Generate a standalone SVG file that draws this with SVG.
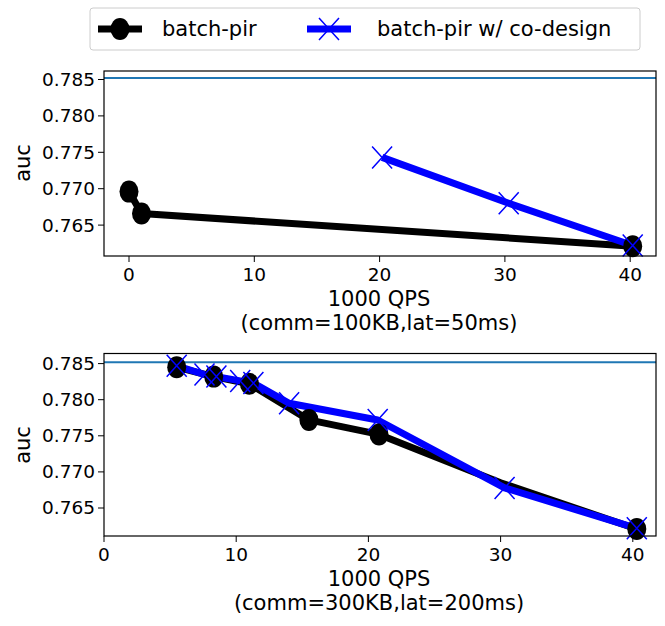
<svg xmlns="http://www.w3.org/2000/svg" width="665" height="626" viewBox="0 0 665 626">
<style>
text{font-family:"DejaVu Sans",sans-serif;fill:#000}
.t{font-size:18.5px}
.l{font-size:21px}
.ax{fill:none;stroke:#000;stroke-width:1.2}
.bl{fill:none;stroke:#000;stroke-width:7;stroke-linejoin:round}
.bu{fill:none;stroke:#0000ff;stroke-width:7;stroke-linejoin:round}
.h{stroke:#1f77b4;stroke-width:2}
.tk{stroke:#000;stroke-width:1}
</style>
<defs>
<ellipse id="c" rx="9.5" ry="11" fill="#000"/>
<path id="x" d="M-10,-11L10,11M-10,11L10,-11" stroke="#0000ff" stroke-width="1.5"/>
</defs>
<rect width="665" height="626" fill="#fff"/>
<g id="legend">
<rect x="90" y="8" width="550" height="42" rx="3" fill="#fff" stroke="#ccc"/>
<line x1="98" y1="29" x2="142" y2="29" stroke="#000" stroke-width="7"/>
<use href="#c" x="120" y="29"/>
<text class="l" x="162" y="36">batch-pir</text>
<line x1="307" y1="29" x2="351" y2="29" stroke="#0000ff" stroke-width="7"/>
<use href="#x" x="329" y="29"/>
<text class="l" x="377" y="36">batch-pir w/ co-design</text>
</g>
<g id="top">
<line class="h" x1="104" y1="78" x2="656" y2="78"/>
<g id="connectors-top">
<polyline class="bl" points="129,191.6 141.5,213.5 632.7,246.2"/>
<polyline class="bu" points="382.1,157.4 508.7,203.3 632.7,245.5"/>
</g>
<use href="#c" x="129" y="191.6"/><use href="#c" x="141.5" y="213.5"/><use href="#c" x="632.7" y="246.2"/>
<use href="#x" x="382.1" y="157.4"/><use href="#x" x="508.7" y="203.3"/><use href="#x" x="632.7" y="245.5"/>
<rect class="ax" x="104" y="71" width="552" height="185"/>
<g class="tk">
<line x1="98" y1="79.5" x2="104" y2="79.5"/><line x1="98" y1="115.9" x2="104" y2="115.9"/><line x1="98" y1="152.3" x2="104" y2="152.3"/><line x1="98" y1="188.7" x2="104" y2="188.7"/><line x1="98" y1="225.1" x2="104" y2="225.1"/>
<line x1="129" y1="256" x2="129" y2="262"/><line x1="254.3" y1="256" x2="254.3" y2="262"/><line x1="379.6" y1="256" x2="379.6" y2="262"/><line x1="504.9" y1="256" x2="504.9" y2="262"/><line x1="630.2" y1="256" x2="630.2" y2="262"/>
</g>
<g class="t" text-anchor="end">
<text x="95" y="86">0.785</text><text x="95" y="122.4">0.780</text><text x="95" y="158.8">0.775</text><text x="95" y="195.2">0.770</text><text x="95" y="231.6">0.765</text>
</g>
<g class="t" text-anchor="middle">
<text x="129" y="281">0</text><text x="254.3" y="281">10</text><text x="379.6" y="281">20</text><text x="504.9" y="281">30</text><text x="630.2" y="281">40</text>
</g>
<text class="l" x="379" y="306" text-anchor="middle">1000 QPS</text>
<text class="l" x="379" y="330" text-anchor="middle">(comm=100KB,lat=50ms)</text>
<text class="l" transform="translate(30,163) rotate(-90)" text-anchor="middle">auc</text>
</g>
<g id="bottom">
<line class="h" x1="104" y1="362.2" x2="656" y2="362.2"/>
<g id="connectors-bottom">
<polyline class="bl" points="176.7,367.2 213.7,376.6 249.4,383.8 308.9,419.9 379,434.4 500.6,482.7 636.8,529"/>
<polyline class="bu" points="176.7,365.8 204.5,374.5 216.4,376.6 240.2,380.9 253.4,383.1 289.1,403.3 377.7,420 504.6,487.9 636.8,528.3"/>
</g>
<use href="#c" x="176.7" y="367.2"/><use href="#c" x="213.7" y="376.6"/><use href="#c" x="249.4" y="383.8"/><use href="#c" x="308.9" y="419.9"/><use href="#c" x="379" y="434.4"/><use href="#c" x="636.8" y="529"/>
<use href="#x" x="176.7" y="365.8"/><use href="#x" x="204.5" y="374.5"/><use href="#x" x="216.4" y="376.6"/><use href="#x" x="240.2" y="380.9"/><use href="#x" x="253.4" y="383.1"/><use href="#x" x="289.1" y="403.3"/><use href="#x" x="377.7" y="420"/><use href="#x" x="504.6" y="487.9"/><use href="#x" x="636.8" y="528.3"/>
<rect class="ax" x="104" y="353.5" width="552" height="182.5"/>
<g class="tk">
<line x1="98" y1="363.6" x2="104" y2="363.6"/><line x1="98" y1="399.7" x2="104" y2="399.7"/><line x1="98" y1="435.8" x2="104" y2="435.8"/><line x1="98" y1="471.9" x2="104" y2="471.9"/><line x1="98" y1="508" x2="104" y2="508"/>
<line x1="104" y1="536" x2="104" y2="542"/><line x1="236.2" y1="536" x2="236.2" y2="542"/><line x1="368.4" y1="536" x2="368.4" y2="542"/><line x1="500.6" y1="536" x2="500.6" y2="542"/><line x1="632.8" y1="536" x2="632.8" y2="542"/>
</g>
<g class="t" text-anchor="end">
<text x="95" y="370">0.785</text><text x="95" y="406.1">0.780</text><text x="95" y="442.2">0.775</text><text x="95" y="478.3">0.770</text><text x="95" y="514.4">0.765</text>
</g>
<g class="t" text-anchor="middle">
<text x="104" y="561">0</text><text x="236.2" y="561">10</text><text x="368.4" y="561">20</text><text x="500.6" y="561">30</text><text x="632.8" y="561">40</text>
</g>
<text class="l" x="379" y="586" text-anchor="middle">1000 QPS</text>
<text class="l" x="379" y="610" text-anchor="middle">(comm=300KB,lat=200ms)</text>
<text class="l" transform="translate(30,445) rotate(-90)" text-anchor="middle">auc</text>
</g>
</svg>
